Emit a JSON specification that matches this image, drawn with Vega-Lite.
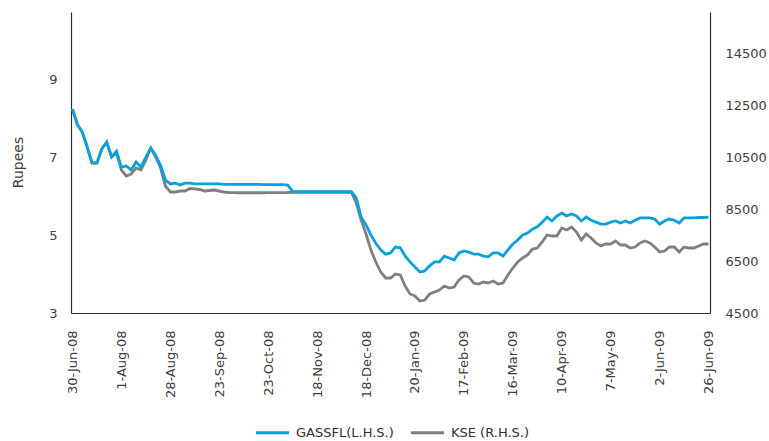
{
  "$schema": "https://vega.github.io/schema/vega-lite/v6.json",
  "width": 639,
  "height": 301,
  "autosize": "none",
  "padding": {"left": 71, "top": 12, "right": 59, "bottom": 128},
  "background": "white",
  "config": {
    "view": {"stroke": null},
    "font": "DejaVu Sans",
    "axis": {"grid": false, "ticks": false, "domainColor": "#303030", "domainWidth": 1.2, "labelColor": "#404040", "labelFontSize": 13, "titleFontWeight": "normal", "titleColor": "#404040"}
  },
  "data": {"values": [
    {"date": "30-Jun-08", "GASSFL": 8.23, "KSE": 12346},
    {"date": "3-Jul-08", "GASSFL": 7.83, "KSE": 11750},
    {"date": "7-Jul-08", "GASSFL": 7.64, "KSE": 11461},
    {"date": "10-Jul-08", "GASSFL": 7.26, "KSE": 10885},
    {"date": "14-Jul-08", "GASSFL": 6.85, "KSE": 10269},
    {"date": "17-Jul-08", "GASSFL": 6.85, "KSE": 10269},
    {"date": "21-Jul-08", "GASSFL": 7.21, "KSE": 10808},
    {"date": "23-Jul-08", "GASSFL": 7.38, "KSE": 11077},
    {"date": "25-Jul-08", "GASSFL": 7.0, "KSE": 10500},
    {"date": "29-Jul-08", "GASSFL": 7.15, "KSE": 10650},
    {"date": "1-Aug-08", "GASSFL": 6.74, "KSE": 10000},
    {"date": "5-Aug-08", "GASSFL": 6.77, "KSE": 9769},
    {"date": "7-Aug-08", "GASSFL": 6.67, "KSE": 9846},
    {"date": "11-Aug-08", "GASSFL": 6.87, "KSE": 10077},
    {"date": "13-Aug-08", "GASSFL": 6.74, "KSE": 10000},
    {"date": "15-Aug-08", "GASSFL": 7.0, "KSE": 10385},
    {"date": "19-Aug-08", "GASSFL": 7.23, "KSE": 10846},
    {"date": "21-Aug-08", "GASSFL": 7.05, "KSE": 10500},
    {"date": "22-Aug-08", "GASSFL": 6.79, "KSE": 10077},
    {"date": "26-Aug-08", "GASSFL": 6.41, "KSE": 9385},
    {"date": "28-Aug-08", "GASSFL": 6.31, "KSE": 9154},
    {"date": "29-Aug-08", "GASSFL": 6.33, "KSE": 9154},
    {"date": "2-Sep-08", "GASSFL": 6.28, "KSE": 9192},
    {"date": "4-Sep-08", "GASSFL": 6.33, "KSE": 9192},
    {"date": "8-Sep-08", "GASSFL": 6.33, "KSE": 9288},
    {"date": "10-Sep-08", "GASSFL": 6.31, "KSE": 9270},
    {"date": "12-Sep-08", "GASSFL": 6.31, "KSE": 9250},
    {"date": "15-Sep-08", "GASSFL": 6.31, "KSE": 9192},
    {"date": "17-Sep-08", "GASSFL": 6.31, "KSE": 9211},
    {"date": "19-Sep-08", "GASSFL": 6.31, "KSE": 9230},
    {"date": "23-Sep-08", "GASSFL": 6.31, "KSE": 9192},
    {"date": "26-Sep-08", "GASSFL": 6.3, "KSE": 9154},
    {"date": "29-Sep-08", "GASSFL": 6.3, "KSE": 9135},
    {"date": "6-Oct-08", "GASSFL": 6.3, "KSE": 9127},
    {"date": "8-Oct-08", "GASSFL": 6.3, "KSE": 9125},
    {"date": "10-Oct-08", "GASSFL": 6.3, "KSE": 9125},
    {"date": "14-Oct-08", "GASSFL": 6.3, "KSE": 9125},
    {"date": "16-Oct-08", "GASSFL": 6.3, "KSE": 9125},
    {"date": "20-Oct-08", "GASSFL": 6.3, "KSE": 9125},
    {"date": "21-Oct-08", "GASSFL": 6.29, "KSE": 9125},
    {"date": "23-Oct-08", "GASSFL": 6.29, "KSE": 9127},
    {"date": "27-Oct-08", "GASSFL": 6.29, "KSE": 9127},
    {"date": "29-Oct-08", "GASSFL": 6.29, "KSE": 9130},
    {"date": "31-Oct-08", "GASSFL": 6.29, "KSE": 9130},
    {"date": "3-Nov-08", "GASSFL": 6.28, "KSE": 9135},
    {"date": "5-Nov-08", "GASSFL": 6.12, "KSE": 9145},
    {"date": "7-Nov-08", "GASSFL": 6.11, "KSE": 9145},
    {"date": "11-Nov-08", "GASSFL": 6.11, "KSE": 9145},
    {"date": "13-Nov-08", "GASSFL": 6.11, "KSE": 9145},
    {"date": "17-Nov-08", "GASSFL": 6.11, "KSE": 9145},
    {"date": "18-Nov-08", "GASSFL": 6.11, "KSE": 9145},
    {"date": "21-Nov-08", "GASSFL": 6.11, "KSE": 9145},
    {"date": "25-Nov-08", "GASSFL": 6.11, "KSE": 9145},
    {"date": "27-Nov-08", "GASSFL": 6.11, "KSE": 9145},
    {"date": "1-Dec-08", "GASSFL": 6.11, "KSE": 9145},
    {"date": "4-Dec-08", "GASSFL": 6.11, "KSE": 9145},
    {"date": "10-Dec-08", "GASSFL": 6.11, "KSE": 9145},
    {"date": "12-Dec-08", "GASSFL": 6.11, "KSE": 9145},
    {"date": "15-Dec-08", "GASSFL": 5.95, "KSE": 8731},
    {"date": "16-Dec-08", "GASSFL": 5.46, "KSE": 8077},
    {"date": "18-Dec-08", "GASSFL": 5.26, "KSE": 7538},
    {"date": "22-Dec-08", "GASSFL": 5.0, "KSE": 6923},
    {"date": "24-Dec-08", "GASSFL": 4.79, "KSE": 6461},
    {"date": "29-Dec-08", "GASSFL": 4.62, "KSE": 6077},
    {"date": "31-Dec-08", "GASSFL": 4.51, "KSE": 5846},
    {"date": "2-Jan-09", "GASSFL": 4.54, "KSE": 5846},
    {"date": "6-Jan-09", "GASSFL": 4.69, "KSE": 6000},
    {"date": "9-Jan-09", "GASSFL": 4.67, "KSE": 5961},
    {"date": "13-Jan-09", "GASSFL": 4.46, "KSE": 5538},
    {"date": "15-Jan-09", "GASSFL": 4.31, "KSE": 5231},
    {"date": "20-Jan-09", "GASSFL": 4.18, "KSE": 5154},
    {"date": "22-Jan-09", "GASSFL": 4.05, "KSE": 4961},
    {"date": "26-Jan-09", "GASSFL": 4.08, "KSE": 5000},
    {"date": "28-Jan-09", "GASSFL": 4.21, "KSE": 5231},
    {"date": "30-Jan-09", "GASSFL": 4.31, "KSE": 5308},
    {"date": "3-Feb-09", "GASSFL": 4.31, "KSE": 5385},
    {"date": "5-Feb-09", "GASSFL": 4.46, "KSE": 5538},
    {"date": "9-Feb-09", "GASSFL": 4.41, "KSE": 5461},
    {"date": "11-Feb-09", "GASSFL": 4.36, "KSE": 5500},
    {"date": "13-Feb-09", "GASSFL": 4.54, "KSE": 5769},
    {"date": "17-Feb-09", "GASSFL": 4.59, "KSE": 5923},
    {"date": "19-Feb-09", "GASSFL": 4.56, "KSE": 5885},
    {"date": "23-Feb-09", "GASSFL": 4.51, "KSE": 5654},
    {"date": "25-Feb-09", "GASSFL": 4.51, "KSE": 5615},
    {"date": "27-Feb-09", "GASSFL": 4.46, "KSE": 5692},
    {"date": "3-Mar-09", "GASSFL": 4.44, "KSE": 5654},
    {"date": "5-Mar-09", "GASSFL": 4.54, "KSE": 5731},
    {"date": "9-Mar-09", "GASSFL": 4.54, "KSE": 5615},
    {"date": "11-Mar-09", "GASSFL": 4.46, "KSE": 5654},
    {"date": "13-Mar-09", "GASSFL": 4.62, "KSE": 5961},
    {"date": "16-Mar-09", "GASSFL": 4.77, "KSE": 6231},
    {"date": "18-Mar-09", "GASSFL": 4.87, "KSE": 6461},
    {"date": "20-Mar-09", "GASSFL": 5.0, "KSE": 6615},
    {"date": "24-Mar-09", "GASSFL": 5.05, "KSE": 6731},
    {"date": "26-Mar-09", "GASSFL": 5.15, "KSE": 6961},
    {"date": "30-Mar-09", "GASSFL": 5.21, "KSE": 7000},
    {"date": "1-Apr-09", "GASSFL": 5.33, "KSE": 7231},
    {"date": "3-Apr-09", "GASSFL": 5.46, "KSE": 7500},
    {"date": "7-Apr-09", "GASSFL": 5.36, "KSE": 7461},
    {"date": "8-Apr-09", "GASSFL": 5.49, "KSE": 7461},
    {"date": "10-Apr-09", "GASSFL": 5.56, "KSE": 7769},
    {"date": "14-Apr-09", "GASSFL": 5.49, "KSE": 7692},
    {"date": "16-Apr-09", "GASSFL": 5.54, "KSE": 7808},
    {"date": "20-Apr-09", "GASSFL": 5.49, "KSE": 7615},
    {"date": "22-Apr-09", "GASSFL": 5.36, "KSE": 7308},
    {"date": "24-Apr-09", "GASSFL": 5.46, "KSE": 7538},
    {"date": "28-Apr-09", "GASSFL": 5.38, "KSE": 7384},
    {"date": "30-Apr-09", "GASSFL": 5.33, "KSE": 7192},
    {"date": "4-May-09", "GASSFL": 5.28, "KSE": 7077},
    {"date": "6-May-09", "GASSFL": 5.28, "KSE": 7154},
    {"date": "7-May-09", "GASSFL": 5.33, "KSE": 7154},
    {"date": "11-May-09", "GASSFL": 5.36, "KSE": 7269},
    {"date": "13-May-09", "GASSFL": 5.31, "KSE": 7115},
    {"date": "15-May-09", "GASSFL": 5.36, "KSE": 7115},
    {"date": "19-May-09", "GASSFL": 5.31, "KSE": 7000},
    {"date": "21-May-09", "GASSFL": 5.38, "KSE": 7038},
    {"date": "25-May-09", "GASSFL": 5.44, "KSE": 7192},
    {"date": "27-May-09", "GASSFL": 5.44, "KSE": 7269},
    {"date": "29-May-09", "GASSFL": 5.44, "KSE": 7192},
    {"date": "1-Jun-09", "GASSFL": 5.41, "KSE": 7038},
    {"date": "2-Jun-09", "GASSFL": 5.28, "KSE": 6846},
    {"date": "4-Jun-09", "GASSFL": 5.36, "KSE": 6885},
    {"date": "8-Jun-09", "GASSFL": 5.41, "KSE": 7038},
    {"date": "10-Jun-09", "GASSFL": 5.38, "KSE": 7038},
    {"date": "12-Jun-09", "GASSFL": 5.31, "KSE": 6846},
    {"date": "16-Jun-09", "GASSFL": 5.44, "KSE": 7038},
    {"date": "18-Jun-09", "GASSFL": 5.44, "KSE": 7000},
    {"date": "22-Jun-09", "GASSFL": 5.44, "KSE": 7000},
    {"date": "23-Jun-09", "GASSFL": 5.45, "KSE": 7077},
    {"date": "24-Jun-09", "GASSFL": 5.45, "KSE": 7154},
    {"date": "26-Jun-09", "GASSFL": 5.46, "KSE": 7154}
  ]},
  "encoding": {
    "x": {
      "field": "date", "type": "ordinal", "sort": null,
      "scale": {"type": "point", "padding": 0.3},
      "axis": {
        "values": ["30-Jun-08", "1-Aug-08", "28-Aug-08", "23-Sep-08", "23-Oct-08", "18-Nov-08", "18-Dec-08", "20-Jan-09", "17-Feb-09", "16-Mar-09", "10-Apr-09", "7-May-09", "2-Jun-09", "26-Jun-09"],
        "labelAngle": -90, "labelPadding": 17, "title": null
      }
    }
  },
  "layer": [
    {
      "mark": {"type": "line", "strokeWidth": 2.8},
      "encoding": {
        "y": {"field": "KSE", "type": "quantitative",
          "scale": {"domain": [4500, 16077], "nice": false, "zero": false},
          "axis": {"orient": "right", "values": [4500, 6500, 8500, 10500, 12500, 14500], "format": "d", "title": null, "labelPadding": 15}},
        "color": {"datum": "KSE (R.H.S.)", "type": "nominal",
          "scale": {"domain": ["GASSFL(L.H.S.)", "KSE (R.H.S.)"], "range": ["#0AA1DA", "#808080"]},
          "legend": {"orient": "none", "legendX": 183, "legendY": 402, "direction": "horizontal", "title": null, "padding": 0, "symbolType": "stroke", "symbolSize": 1100, "symbolStrokeWidth": 3, "labelFontSize": 13, "labelColor": "#303030", "columnPadding": 10, "labelOffset": 5}}
      }
    },
    {
      "mark": {"type": "line", "strokeWidth": 2.8},
      "encoding": {
        "y": {"field": "GASSFL", "type": "quantitative",
          "scale": {"domain": [3, 10.72], "nice": false, "zero": false},
          "axis": {"orient": "left", "values": [3, 5, 7, 9], "title": "Rupees", "titleFontSize": 14, "titleX": -46, "titleY": 150, "labelPadding": 14}},
        "color": {"datum": "GASSFL(L.H.S.)", "type": "nominal"}
      }
    }
  ],
  "resolve": {"scale": {"y": "independent"}}
}
